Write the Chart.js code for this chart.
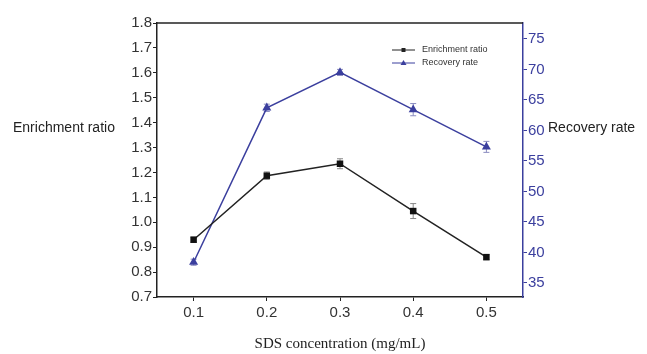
<!DOCTYPE html>
<html>
<head>
<meta charset="utf-8">
<script src="https://cdn.jsdelivr.net/npm/chart.js@4/dist/chart.umd.min.js"></script>
<style>
  html, body { margin: 0; padding: 0; background: #fff; }
  #wrap { width: 647px; height: 354px; position: relative; }
</style>
</head>
<body>
<div id="wrap"><canvas id="chart"></canvas></div>
<script>
// Data
var concentrations = [0.1, 0.2, 0.3, 0.4, 0.5];
var enrichmentRatio = [0.93, 1.187, 1.235, 1.045, 0.86];
var enrichmentError = [0.01, 0.015, 0.02, 0.03, 0.01];
var recoveryRate = [38.4, 63.7, 69.5, 63.4, 57.3];
var recoveryError = [0.5, 0.6, 0.5, 1.0, 0.9];

// Tick labels
var xTicks = [0.1, 0.2, 0.3, 0.4, 0.5];
var leftTicks = [0.7, 0.8, 0.9, 1.0, 1.1, 1.2, 1.3, 1.4, 1.5, 1.6, 1.7, 1.8];
var rightTicks = [35, 40, 45, 50, 55, 60, 65, 70, 75];

var blue = '#3b3f9e';
var sans = "'Liberation Sans', Arial, sans-serif";

function toPoints(xs, ys) {
  return xs.map(function(x, i) { return { x: x, y: ys[i] }; });
}

function setTicks(values) {
  return function(scale) {
    scale.ticks = values.map(function(v) { return { value: v }; });
  };
}

// Error bars, axis titles, legend and top border
var decorPlugin = {
  id: 'decor',
  beforeDatasetsDraw: function(chart) {
    var ctx = chart.ctx;
    var xs = chart.scales.x;

    // error bars
    var sets = [
      { data: enrichmentRatio, err: enrichmentError, scale: chart.scales.y, color: '#888' },
      { data: recoveryRate, err: recoveryError, scale: chart.scales.y1, color: '#8a8cc0' }
    ];
    ctx.save();
    ctx.lineWidth = 1;
    sets.forEach(function(s) {
      ctx.strokeStyle = s.color;
      concentrations.forEach(function(c, i) {
        var px = xs.getPixelForValue(c);
        var top = s.scale.getPixelForValue(s.data[i] + s.err[i]);
        var bot = s.scale.getPixelForValue(s.data[i] - s.err[i]);
        ctx.beginPath();
        ctx.moveTo(px, top); ctx.lineTo(px, bot);
        ctx.moveTo(px - 3, top); ctx.lineTo(px + 3, top);
        ctx.moveTo(px - 3, bot); ctx.lineTo(px + 3, bot);
        ctx.stroke();
      });
    });
    ctx.restore();
  },
  afterDraw: function(chart) {
    var ctx = chart.ctx;
    var area = chart.chartArea;
    ctx.save();

    // top border
    ctx.strokeStyle = '#222';
    ctx.lineWidth = 1.5;
    ctx.beginPath();
    ctx.moveTo(area.left, area.top);
    ctx.lineTo(area.right, area.top);
    ctx.stroke();

    // horizontal axis titles
    ctx.fillStyle = '#222';
    ctx.font = '14px ' + sans;
    ctx.textBaseline = 'middle';
    ctx.textAlign = 'left';
    ctx.fillText('Enrichment ratio', 13, 128);
    ctx.fillText('Recovery rate', 548, 128);

    // legend
    var ds = chart.data.datasets;
    var lx = 392, ly = [50, 63];
    ctx.font = '9px ' + sans;
    ds.forEach(function(d, i) {
      ctx.strokeStyle = d.borderColor;
      ctx.fillStyle = d.borderColor;
      ctx.lineWidth = 1;
      ctx.beginPath();
      ctx.moveTo(lx, ly[i]); ctx.lineTo(lx + 23, ly[i]);
      ctx.stroke();
      ctx.beginPath();
      if (i === 0) {
        ctx.rect(lx + 9.5, ly[i] - 2, 4, 4);
      } else {
        ctx.moveTo(lx + 11.5, ly[i] - 3);
        ctx.lineTo(lx + 14.5, ly[i] + 2);
        ctx.lineTo(lx + 8.5, ly[i] + 2);
        ctx.closePath();
      }
      ctx.fill();
      ctx.fillStyle = '#333';
      ctx.fillText(d.label, lx + 30, ly[i]);
    });
    ctx.restore();
  }
};

var chart = new Chart(document.getElementById('chart'), {
  type: 'line',
  data: {
    datasets: [
      {
        label: 'Enrichment ratio',
        data: toPoints(concentrations, enrichmentRatio),
        yAxisID: 'y',
        borderColor: '#222',
        backgroundColor: '#111',
        borderWidth: 1.5,
        pointStyle: 'rect',
        pointRadius: 4.6,
        pointBorderWidth: 0,
        tension: 0
      },
      {
        label: 'Recovery rate',
        data: toPoints(concentrations, recoveryRate),
        yAxisID: 'y1',
        borderColor: blue,
        backgroundColor: blue,
        borderWidth: 1.5,
        pointStyle: 'triangle',
        pointRadius: 5.2,
        pointBorderWidth: 0,
        tension: 0
      }
    ]
  },
  options: {
    responsive: true,
    maintainAspectRatio: false,
    animation: false,
    layout: { padding: { left: 0, right: 0, top: 23, bottom: 0 } },
    plugins: {
      legend: { display: false },
      tooltip: { enabled: false }
    },
    scales: {
      x: {
        type: 'linear',
        min: 0.05,
        max: 0.55,
        afterBuildTicks: setTicks(xTicks),
        afterFit: function(scale) { scale.height = 57; },
        grid: { drawOnChartArea: false, tickLength: 4, color: '#222' },
        border: { color: '#222', width: 1.5 },
        ticks: {
          color: '#333',
          font: { family: sans, size: 15 },
          padding: 3,
          maxRotation: 0,
          callback: function(v) { return v.toFixed(1); }
        },
        title: {
          display: true,
          text: 'SDS concentration (mg/mL)',
          color: '#222',
          font: { family: "'Liberation Serif', 'Times New Roman', serif", size: 15 },
          padding: { top: 0, bottom: 1 }
        }
      },
      y: {
        position: 'left',
        min: 0.7,
        max: 1.8,
        afterBuildTicks: setTicks(leftTicks),
        afterFit: function(scale) { scale.width = 157; },
        grid: { drawOnChartArea: false, tickLength: 4, color: '#222' },
        border: { color: '#222', width: 1.5 },
        ticks: {
          color: '#333',
          font: { family: sans, size: 15 },
          padding: 1,
          callback: function(v) { return v.toFixed(1); }
        }
      },
      y1: {
        position: 'right',
        min: 32.7,
        max: 77.6,
        afterBuildTicks: setTicks(rightTicks),
        afterFit: function(scale) { scale.width = 124; },
        grid: { drawOnChartArea: false, tickLength: 4, color: blue },
        border: { color: blue, width: 1.5 },
        ticks: {
          color: blue,
          font: { family: sans, size: 15 },
          padding: 1
        }
      }
    }
  },
  plugins: [decorPlugin]
});
</script>
</body>
</html>
